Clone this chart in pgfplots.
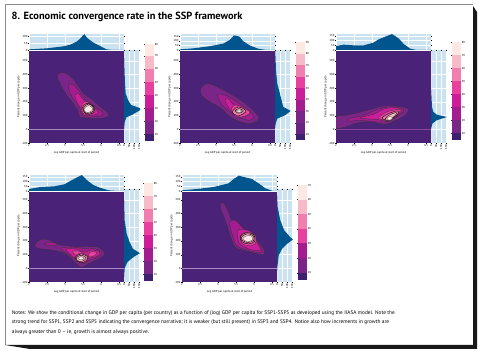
\documentclass[border=0pt]{standalone}
\usepackage{pgfplots}
\pgfplotsset{compat=1.18}
\usepackage{fontspec}
\setmainfont{PT Sans}
\definecolor{bgm}{HTML}{4A2277}
\definecolor{lA}{HTML}{7A2688}
\definecolor{lB}{HTML}{A31C90}
\definecolor{lC}{HTML}{CC1E9A}
\definecolor{lD}{HTML}{E8409F}
\definecolor{lE}{HTML}{F07FB0}
\definecolor{lF}{HTML}{F7BAC8}
\definecolor{lG}{HTML}{FDE8E4}
\definecolor{cbz}{HTML}{3D2070}
\definecolor{hb}{HTML}{00558F}
\definecolor{hl}{HTML}{CBE3F1}
\definecolor{zl}{HTML}{A98CC4}
\newcommand{\tk}{\fontsize{2.9}{3.4}\selectfont}
\pgfplotsset{
 every tick/.style={line width=0.15pt,black},
 tick label style={font=\tk,inner sep=0.6pt},
 /pgf/number format/assume math mode=true,
 /pgf/number format/.cd,1000 sep={},
 /pgfplots/.cd,
 base/.style={scale only axis,xmin=6,xmax=11.28,ymin=-100,ymax=575,axis line style={draw=none},tick align=outside,major tick length=0.8pt,
   xtick={6,7,8,9,10,11},ytick={-100,0,100,200,300,400,500},clip=true},
 mainax/.style={base,width=95pt,height=92.5pt,xticklabels={2,2.5,3,3.5,4,4.5},
   axis background/.style={fill=bgm},axis on top=false,
   xlabel={Log GDP per capita at start of period},ylabel={Percent change in GDP per capita},
   label style={font=\tk},xlabel style={yshift=-0.5pt},ylabel style={yshift=-2.5pt}},
 tophist/.style={base,width=95pt,height=16pt,ymin=0,ymax=#1,axis background/.style={fill=hl},grid=major,grid style={white,line width=0.3pt},
   xticklabels={},major x tick style={draw=none},ytick={0,50,100,150}},
 righthist/.style={base,width=16pt,height=92.5pt,xmin=0,xmax=160,axis background/.style={fill=hl},grid=major,grid style={white,line width=0.3pt},
   xtick={0,50,100,150},yticklabels={},major y tick style={draw=none},x tick label style={rotate=90,anchor=east}},
 cbar/.style={scale only axis,width=9pt,xmin=0,xmax=1,axis line style={draw=none},xtick=\empty,ytick pos=right,tick align=inside,
   major tick length=10pt,yticklabel pos=right,major tick style={line width=0.3pt,black!80}},
 L1/.style={fill=lA,draw=black!80,line width=0.3pt,smooth cycle,tension=0.6,no markers,forget plot},
 L2/.style={L1,fill=lB},L3/.style={L1,fill=lC},L4/.style={L1,fill=lD},
 L5/.style={L1,fill=lE,draw=black,line width=0.4pt},L6/.style={L1,fill=lF,draw=black,line width=0.4pt},L7/.style={L1,fill=lG,draw=black!70,line width=0.35pt},
 HT/.style={fill=hb,draw=none,no markers,forget plot},
 ZL/.style={zl,line width=0.5pt,no markers,forget plot},
}
\newcommand{\seg}[3]{\addplot[fill=#3,draw=none,no markers,forget plot] coordinates {(0,#1)(1,#1)(1,#2)(0,#2)} --cycle;}
\begin{document}
\begin{tikzpicture}[x=1pt,y=1pt]
\useasboundingbox (0,0) rectangle (480,356);
\fill[white] (0,0) rectangle (480,356);
\draw[black!45,line width=0.5pt] (5,11) -- (5,352) -- (473,352);
\fill[black!90] (473,350) -- (477,344) -- (477,7) -- (30,7) -- (5,11) -- (473,11) -- cycle;
\node[anchor=base west,inner sep=0,font=\bfseries\fontsize{10.4}{12}\selectfont] at (11.5,336.5) {8. Economic convergence rate in the SSP framework};
\begin{scope}[every node/.style={anchor=base west,inner sep=0,font=\fontsize{5.3}{6}\selectfont}]
\node at (11.7,41.5) {Notes: We show the conditional change in GDP per capita (per country) as a function of (log) GDP per capita for SSP1-SSP5 as developed using the IIASA model. Note the};
\node at (11.7,32) {strong trend for SSP1, SSP2 and SSP5 indicating the convergence narrative; it is weaker (but still present) in SSP3 and SSP4. Notice also how increments in growth are};
\node at (11.7,22.5) {always greater than 0 -- ie, growth is almost always positive.};
\end{scope}

% ---------- Panel 1
\begin{axis}[mainax,at={(29pt,213pt)},anchor=south west]
\addplot[L1] coordinates {(7.57,390)(7.81,415)(8.19,398)(8.56,349)(9.02,264)(9.48,220)(9.94,166)(10.41,117)(10.31,88)(9.76,78)(9.30,83)(8.83,88)(8.74,129)(8.46,190)(8.09,251)(7.72,337)};
\addplot[L2] coordinates {(8.19,325)(8.46,325)(8.80,276)(9.11,220)(9.67,166)(10.13,112)(9.67,93)(9.02,93)(8.83,142)(8.56,203)(8.28,264)};
\addplot[L3] coordinates {(8.56,251)(8.74,264)(9.02,215)(9.57,166)(9.85,117)(9.39,102)(9.02,105)(8.83,161)(8.61,215)};
\addplot[L4] coordinates {(8.93,178)(9.17,203)(9.57,166)(9.67,129)(9.20,105)(8.98,122)};
\addplot[L5] coordinates {(8.98,161)(9.24,190)(9.61,161)(9.57,122)(9.17,112)};
\addplot[L6] coordinates {(9.02,154)(9.30,185)(9.57,161)(9.54,129)(9.17,117)};
\addplot[L7] coordinates {(9.06,149)(9.30,173)(9.54,154)(9.43,129)(9.17,124)};
\addplot[ZL] coordinates {(6,0)(11.28,0)};
\end{axis}
\begin{axis}[tophist=118,at={(29pt,306pt)},anchor=south west]
\addplot[HT] coordinates {(6,0)(6,5)(6.43,8)(6.98,12)(7.35,18)(7.91,27)(8.28,38)(8.65,62)(8.83,82)(9.07,118)(9.24,88)(9.57,55)(9.94,30)(10.31,5)(10.67,0)(11.28,0)} --cycle;
\end{axis}
\begin{axis}[righthist,at={(124pt,213pt)},anchor=south west]
\addplot[HT] coordinates {(0,575)(1,575)(3,500)(6,420)(10,340)(17,260)(40,215)(70,178)(160,154)(160,140)(80,105)(25,88)(8,56)(2,0)(0,-100)} --cycle;
\end{axis}
\begin{axis}[cbar,at={(145pt,215pt)},anchor=south west,height=97pt,ymin=0,ymax=74,ytick={5,15,25,35,45,55,65,74},yticklabels={10,20,30,40,50,60,70,80}]
\seg{0}{5}{cbz}\seg{5}{15}{lA}\seg{15}{25}{lB}\seg{25}{35}{lC}\seg{35}{45}{lD}\seg{45}{55}{lE}\seg{55}{65}{lF}\seg{65}{74}{lG}
\end{axis}

% ---------- Panel 2
\begin{axis}[mainax,at={(180pt,213pt)},anchor=south west]
\addplot[L1] coordinates {(7.15,298)(7.48,334)(7.85,322)(8.5,281)(9.24,224)(9.89,159)(10.39,85)(10.17,54)(9.8,41)(9.15,66)(8.69,102)(8.22,159)(7.67,200)(7.2,249)};
\addplot[L2] coordinates {(8.07,249)(8.31,256)(8.78,232)(9.43,176)(10.07,102)(9.89,66)(9.24,90)(8.78,127)(8.31,183)};
\addplot[L3] coordinates {(8.5,212)(8.69,224)(9.06,168)(9.8,115)(9.52,90)(9.06,102)(8.69,159)};
\addplot[L4] coordinates {(8.87,151)(9.06,176)(9.52,159)(9.89,120)(9.43,90)(9.0,102)};
\addplot[L5] coordinates {(8.93,134)(9.24,163)(9.67,134)(9.33,102)(9.0,110)};
\addplot[L6] coordinates {(9.06,134)(9.28,151)(9.52,134)(9.28,117)};
\addplot[L7] coordinates {(9.13,134)(9.28,141)(9.43,134)(9.28,122)};
\addplot[ZL] coordinates {(6,0)(11.28,0)};
\end{axis}
\begin{axis}[tophist=175,at={(180pt,306pt)},anchor=south west]
\addplot[HT] coordinates {(6,0)(6,7)(6.74,18)(7.67,42)(8.41,70)(8.78,112)(9.0,160)(9.3,147)(9.52,95)(9.89,49)(10.35,14)(10.8,0)(11.28,0)} --cycle;
\end{axis}
\begin{axis}[righthist,at={(275pt,213pt)},anchor=south west]
\addplot[HT] coordinates {(0,575)(3,573)(10,432)(23,334)(57,237)(83,163)(157,134)(100,102)(23,78)(7,41)(1,0)(0,-100)} --cycle;
\end{axis}
\begin{axis}[cbar,at={(296pt,216pt)},anchor=south west,height=98pt,ymin=0,ymax=85,ytick={5,15,25,35,45,55,65,75,85},yticklabels={10,20,30,40,50,60,70,80,90}]
\seg{0}{5}{cbz}\seg{5}{15}{lA!60!bgm}\seg{15}{25}{lA}\seg{25}{35}{lB}\seg{35}{45}{lC}\seg{45}{55}{lD}\seg{55}{65}{lE}\seg{65}{75}{lF}\seg{75}{85}{lG}
\end{axis}

% ---------- Panel 3
\begin{axis}[mainax,at={(336pt,213pt)},anchor=south west]
\addplot[L1] coordinates {(6,90)(6.52,102)(7.17,120)(7.91,144)(8.56,168)(9.3,168)(9.98,151)(9.85,102)(9.3,66)(8.74,37)(7.91,54)(7.17,46)(6.52,17)(6,12)};
\addplot[L2] coordinates {(6.7,78)(7.54,102)(8.28,144)(9.02,163)(9.76,144)(9.57,110)(8.93,59)(8.28,54)(7.35,66)(6.7,59)};
\addplot[L3] coordinates {(7.35,85)(8.09,110)(8.74,151)(9.39,159)(9.67,134)(9.3,90)(8.93,59)(8.28,71)(7.63,78)};
\addplot[L4] coordinates {(8.37,85)(8.83,127)(9.39,144)(9.57,134)(9.24,85)(8.93,59)(8.56,71)};
\addplot[L5] coordinates {(8.56,83)(8.93,115)(9.43,134)(9.43,110)(9.11,78)(8.93,61)(8.69,71)};
\addplot[L6] coordinates {(8.74,78)(8.98,105)(9.35,122)(9.3,102)(9.06,76)(8.89,61)};
\addplot[L7] coordinates {(8.83,78)(8.98,93)(9.15,83)(8.98,66)};
\addplot[ZL,color=lA!70!zl] coordinates {(6,0)(11.28,0)};
\end{axis}
\begin{axis}[tophist=168,at={(336pt,306pt)},anchor=south west]
\addplot[HT] coordinates {(6,0)(6,42)(6.43,56)(6.98,49)(7.54,49)(8.09,77)(8.37,112)(8.74,140)(9.11,168)(9.48,122)(9.76,63)(10.13,14)(10.5,0)(11.28,0)} --cycle;
\end{axis}
\begin{axis}[righthist,at={(431pt,213pt)},anchor=south west]
\addplot[HT] coordinates {(0,575)(1,310)(10,163)(23,127)(57,107)(160,90)(57,66)(13,41)(1,0)(0,-100)} --cycle;
\end{axis}
\begin{axis}[cbar,at={(452pt,216pt)},anchor=south west,height=98pt,ymin=0,ymax=75,ytick={5,15,25,35,45,55,65,75},yticklabels={10,20,30,40,50,60,70,80}]
\seg{0}{5}{cbz}\seg{5}{15}{lA}\seg{15}{25}{lB}\seg{25}{35}{lC}\seg{35}{45}{lD}\seg{45}{55}{lE}\seg{55}{65}{lF}\seg{65}{75}{lG}
\end{axis}

% ---------- Panel 4
\begin{axis}[mainax,at={(29pt,74pt)},anchor=south west]
\addplot[L1] coordinates {(6.36,178)(6.64,210)(7.11,207)(7.68,173)(8.53,159)(9.28,159)(9.94,149)(10.19,100)(9.77,61)(9.28,32)(8.91,7)(8.62,37)(7.96,110)(7.21,134)(6.64,142)(6.36,154)};
\addplot[L2] coordinates {(6.83,176)(7.21,188)(7.62,176)(7.21,164)};
\addplot[L2] coordinates {(7.77,146)(8.43,154)(9.19,142)(9.66,142)(10.04,117)(9.85,81)(9.32,56)(9.09,32)(8.72,56)(8.15,105)};
\addplot[L3] coordinates {(8.06,137)(8.62,142)(9.09,117)(9.47,134)(9.94,117)(9.75,85)(9.32,73)(9.0,44)(8.62,63)};
\addplot[L4] coordinates {(8.43,124)(8.81,124)(9.0,105)(8.62,93)};
\addplot[L4] coordinates {(9.38,117)(9.75,117)(9.66,93)(9.32,85)};
\addplot[L4] coordinates {(8.53,73)(8.81,110)(9.19,100)(9.32,73)(9.09,44)(8.72,51)};
\addplot[L5] coordinates {(8.57,73)(8.85,105)(9.25,85)(9.19,56)(8.87,41)};
\addplot[L6] coordinates {(8.62,73)(8.87,95)(9.13,81)(9.09,61)(8.81,49)};
\addplot[L7] coordinates {(8.72,73)(8.91,85)(9.06,71)(8.87,61)};
\addplot[ZL] coordinates {(6,0)(11.28,0)};
\end{axis}
\begin{axis}[tophist=168,at={(29pt,165pt)},anchor=south west]
\addplot[HT] coordinates {(6,0)(6,21)(6.64,42)(7.4,49)(7.96,70)(8.43,119)(8.72,147)(8.94,168)(9.19,119)(9.57,63)(9.94,35)(10.42,7)(10.9,0)(11.28,0)} --cycle;
\end{axis}
\begin{axis}[righthist,at={(124pt,74pt)},anchor=south west]
\addplot[HT] coordinates {(0,575)(0,573)(7,349)(27,251)(57,190)(90,142)(160,110)(90,80)(33,44)(7,0)(0,-98)} --cycle;
\end{axis}
\begin{axis}[cbar,at={(144pt,75pt)},anchor=south west,height=98pt,ymin=0,ymax=75,ytick={5,15,25,35,45,55,65,75},yticklabels={10,20,30,40,50,60,70,80}]
\seg{0}{5}{cbz}\seg{5}{15}{lA}\seg{15}{25}{lB}\seg{25}{35}{lC}\seg{35}{45}{lD}\seg{45}{55}{lE}\seg{55}{65}{lF}\seg{65}{75}{lG}
\end{axis}

% ---------- Panel 5
\begin{axis}[mainax,at={(182pt,74pt)},anchor=south west]
\addplot[L1] coordinates {(8.13,466)(8.31,476)(8.59,410)(8.78,349)(9.43,276)(10.07,215)(10.54,142)(10.54,100)(10.07,110)(9.33,134)(8.96,154)(8.69,239)(8.41,349)(8.22,410)};
\addplot[L2] coordinates {(8.65,337)(8.96,349)(9.43,288)(10.07,203)(10.44,124)(10.07,117)(9.43,142)(9.02,166)(8.78,251)};
\addplot[L3] coordinates {(9.09,276)(9.43,281)(9.89,264)(10.17,190)(10.35,134)(9.89,134)(9.43,159)(9.15,190)};
\addplot[L4] coordinates {(9.24,239)(9.65,264)(10.07,239)(10.07,178)(9.7,166)(9.33,183)};
\addplot[L5] coordinates {(9.24,232)(9.57,259)(9.98,246)(10.04,198)(9.7,178)(9.33,195)};
\addplot[L6] coordinates {(9.30,227)(9.61,251)(9.94,239)(9.98,203)(9.65,188)(9.37,203)};
\addplot[L7] coordinates {(9.39,222)(9.65,239)(9.89,232)(9.89,203)(9.61,195)(9.43,207)};
\addplot[ZL] coordinates {(6,0)(11.28,0)};
\end{axis}
\begin{axis}[tophist=168,at={(182pt,165pt)},anchor=south west]
\addplot[HT] coordinates {(6,0)(6,7)(6.83,21)(7.76,42)(8.59,80)(8.87,126)(9.15,161)(9.43,147)(9.89,126)(10.26,80)(10.63,28)(11.0,3)(11.28,0)} --cycle;
\end{axis}
\begin{axis}[righthist,at={(277pt,74pt)},anchor=south west]
\addplot[HT] coordinates {(0,575)(7,447)(33,349)(73,276)(133,227)(160,210)(100,178)(50,142)(17,93)(3,0)(0,-90)} --cycle;
\end{axis}
\begin{axis}[cbar,at={(298pt,76pt)},anchor=south west,height=95pt,ymin=0,ymax=65,ytick={5,15,25,35,45,55,65},yticklabels={10,20,30,40,50,60,70}]
\seg{0}{5}{cbz}\seg{5}{15}{lA}\seg{15}{25}{lB}\seg{25}{35}{lD}\seg{35}{45}{lE}\seg{45}{55}{lF}\seg{55}{65}{lG}
\end{axis}
\end{tikzpicture}
\end{document}
